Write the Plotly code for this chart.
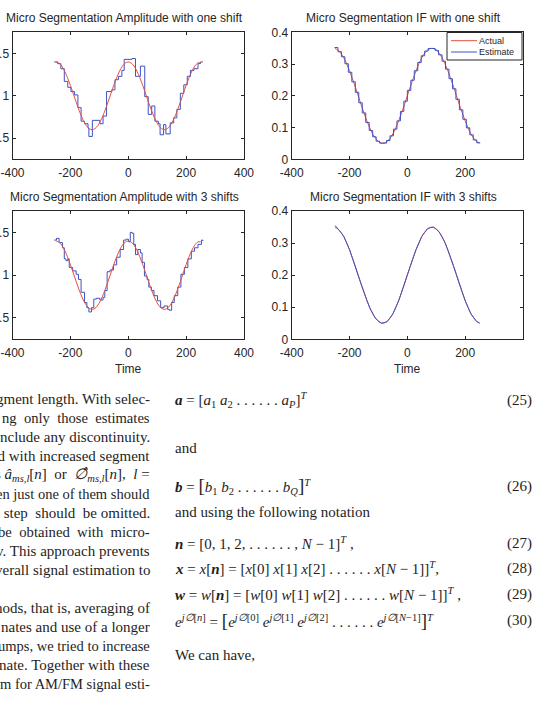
import plotly.graph_objects as go

W, H = 533, 701

# ---------------- data ----------------
amp_t = [-250, -240, -230, -220, -210, -200, -190, -180, -170, -160, -150, -140, -130, -120, -110, -100,
         -90, -80, -70, -60, -50, -40, -30, -20, -10, 0, 10, 20, 30, 40, 50, 60, 70, 80, 90, 100,
         110, 120, 130, 140, 150, 160, 170, 180, 190, 200, 210, 220, 230, 240, 250]
amp_actual = [1.40, 1.387, 1.351, 1.292, 1.214, 1.124, 1.025, 0.925, 0.830, 0.745, 0.676, 0.628, 0.603,
              0.603, 0.628, 0.676, 0.745, 0.830, 0.925, 1.025, 1.124, 1.214, 1.292, 1.351, 1.387, 1.40,
              1.387, 1.351, 1.292, 1.214, 1.124, 1.025, 0.925, 0.830, 0.745, 0.676, 0.628, 0.603, 0.603,
              0.628, 0.676, 0.745, 0.830, 0.925, 1.025, 1.124, 1.214, 1.292, 1.351, 1.387, 1.39]

amp1_est_t = [-256, -244, -233, -221, -209, -198, -186, -174, -163, -151, -139, -136, -124, -98, -87, -75,
              -57, -46, -34, -22, -14, 13, 25, 42, 57, 69, 81, 92, 104, 110, 122, 130, 145, 157, 168,
              180, 192, 204, 215, 227, 241, 250, 258]
amp1_est_v = [1.40, 1.38, 1.32, 1.17, 1.10, 1.05, 1.01, 0.86, 0.70, 0.67, 0.62, 0.52, 0.71, 0.67, 0.76, 1.05,
              1.07, 1.19, 1.23, 1.30, 1.43, 1.44, 1.23, 1.35, 0.99, 0.78, 0.88, 0.70, 0.67, 0.54, 0.66,
              0.55, 0.68, 0.74, 0.84, 1.03, 1.13, 1.23, 1.30, 1.32, 1.38, 1.40, 1.40]

amp3_est_t = [-256, -248, -239, -227, -221, -215, -209, -204, -192, -180, -172, -163, -151, -143, -136, -127,
              -119, -110, -98, -87, -81, -73, -63, -51, -40, -28, -16, -7, 1, 7, 13, 19, 25, 33, 42, 48,
              56, 65, 71, 80, 89, 101, 112, 124, 136, 142, 150, 159, 171, 182, 194, 206, 218, 229, 241,
              253, 258]
amp3_est_v = [1.41, 1.43, 1.38, 1.32, 1.19, 1.17, 1.19, 1.09, 1.05, 1.01, 0.95, 0.80, 0.68, 0.62, 0.57, 0.62,
              0.72, 0.73, 0.71, 0.74, 0.82, 1.04, 1.06, 1.12, 1.21, 1.30, 1.41, 1.42, 1.39, 1.50, 1.49,
              1.36, 1.24, 1.30, 1.26, 1.15, 0.99, 0.95, 0.86, 0.82, 0.76, 0.70, 0.62, 0.64, 0.60, 0.59,
              0.68, 0.76, 0.86, 1.01, 1.09, 1.19, 1.28, 1.32, 1.36, 1.41, 1.40]

if_t = amp_t
if_actual = [0.349, 0.344, 0.334, 0.320, 0.301, 0.279, 0.254, 0.228, 0.200, 0.172, 0.146, 0.121, 0.099,
             0.080, 0.066, 0.056, 0.051, 0.051, 0.056, 0.066, 0.080, 0.099, 0.121, 0.146, 0.172, 0.200,
             0.228, 0.254, 0.279, 0.301, 0.320, 0.334, 0.344, 0.349, 0.349, 0.344, 0.334, 0.320, 0.301,
             0.279, 0.254, 0.228, 0.200, 0.172, 0.146, 0.121, 0.099, 0.080, 0.066, 0.056, 0.051]

if1_est_t = [-252, -240, -228, -216, -204, -192, -180, -168, -156, -144, -132, -120, -108, -96, -84, -72,
             -60, -48, -36, -24, -12, 0, 12, 24, 36, 48, 60, 72, 84, 96, 108, 120, 132, 144, 156, 168,
             180, 192, 204, 216, 228, 240, 252]
if1_est_v = [0.352, 0.339, 0.323, 0.301, 0.274, 0.244, 0.211, 0.178, 0.146, 0.116, 0.091, 0.071, 0.057,
             0.051, 0.051, 0.059, 0.074, 0.095, 0.121, 0.151, 0.183, 0.217, 0.249, 0.279, 0.305, 0.326,
             0.341, 0.349, 0.349, 0.343, 0.329, 0.309, 0.284, 0.254, 0.222, 0.189, 0.156, 0.126, 0.099,
             0.077, 0.061, 0.052, 0.052]

if3_est_v = [0.355, 0.345, 0.333, 0.321, 0.300, 0.280, 0.253, 0.229, 0.199, 0.173, 0.145, 0.122, 0.098,
             0.081, 0.065, 0.057, 0.050, 0.052, 0.055, 0.067, 0.079, 0.100, 0.120, 0.147, 0.171, 0.201,
             0.227, 0.255, 0.280, 0.300, 0.321, 0.333, 0.345, 0.348, 0.350, 0.343, 0.335, 0.319, 0.302,
             0.278, 0.255, 0.227, 0.201, 0.171, 0.147, 0.120, 0.100, 0.079, 0.067, 0.055, 0.050]

x_ticks = [-400, -200, 0, 200, 400]
x_tick_text = ["-400", "-200", "0", "200", "400"]
amp_ticks = [0.5, 1, 1.5]
amp_tick_text = ["0.5", "1", "1.5"]
if_ticks = [0, 0.1, 0.2, 0.3, 0.4]
if_tick_text = ["0", "0.1", "0.2", "0.3", "0.4"]

titles = ["Micro Segmentation Amplitude with one shift", "Micro Segmentation IF with one shift",
          "Micro Segmentation Amplitude with 3 shifts", "Micro Segmentation IF with 3 shifts"]
x_label = "Time"
legend_names = ["Actual", "Estimate"]

# (text, font size) of the clipped left column; double spaces imitate justification
left_lines = [
    ("gment length. With selec-", 15),
    ("ng  only  those  estimates", 14.6),
    ("nclude any discontinuity.", 15),
    ("nd with increased segment", 15),
    ("s <i>â</i><sub><i>ms,l</i></sub>[<i>n</i>]  or  <i>∅̂</i><sub><i>ms,l</i></sub>[<i>n</i>],  <i>l</i> =", 15),
    ("en just one of them should", 14.5),
    ("t  step  should  be omitted.", 15),
    ("be  obtained  with  micro-", 14.7),
    ("v. This approach prevents", 15),
    ("verall signal estimation to", 15),
    ("", 15),
    ("hods, that is, averaging of", 15),
    ("nates and use of a longer", 15),
    ("umps, we tried to increase", 14.5),
    ("nate. Together with these", 15),
    ("m for AM/FM signal esti-", 14.5),
]

BIG_L = '<span style="font-size:19px">[</span>'
BIG_R = '<span style="font-size:19px">]</span>'
right_items = [
    ("<b><i>a</i></b> = [<i>a</i><sub>1</sub> <i>a</i><sub>2</sub> . . . . . . <i>a</i><sub><i>P</i></sub>]<sup><i>T</i></sup>", "(25)"),
    ("and", ""),
    ("<b><i>b</i></b> = " + BIG_L + "<i>b</i><sub>1</sub> <i>b</i><sub>2</sub> . . . . . . <i>b</i><sub><i>Q</i></sub>" + BIG_R + "<sup><i>T</i></sup>", "(26)"),
    ("and using the following notation", ""),
    ("<b><i>n</i></b> = [0, 1, 2, . . . . . . , <i>N</i> − 1]<sup><i>T</i></sup> ,", "(27)"),
    ("<b><i>x</i></b> = <i>x</i>[<b><i>n</i></b>] = [<i>x</i>[0] <i>x</i>[1] <i>x</i>[2] . . . . . . <i>x</i>[<i>N</i> − 1]]<sup><i>T</i></sup>,", "(28)"),
    ("<b><i>w</i></b> = <i>w</i>[<b><i>n</i></b>] = [<i>w</i>[0] <i>w</i>[1] <i>w</i>[2] . . . . . . <i>w</i>[<i>N</i> − 1]]<sup><i>T</i></sup> ,", "(29)"),
    ("<i>e</i><sup><i>j∅</i>[<i>n</i>]</sup> = " + BIG_L + "<i>e</i><sup><i>j∅</i>[0]</sup> <i>e</i><sup><i>j∅</i>[1]</sup> <i>e</i><sup><i>j∅</i>[2]</sup> . . . . . . <i>e</i><sup><i>j∅</i>[<i>N</i>−1]</sup>" + BIG_R + "<sup><i>T</i></sup>", "(30)"),
    ("We can have,", ""),
]

# ---------------- layout helpers ----------------
def fx(p):
    return p / W

def fy(p):
    return 1 - p / H

RED = "rgb(228,80,62)"
BLUE = "rgb(62,82,196)"
AX = "#262626"
TXT = "#1e1e1e"
SANS = "Liberation Sans, Arial, sans-serif"
SERIF = "Liberation Serif, Times New Roman, serif"

fig = go.Figure()

# top-left: amplitude, one shift
fig.add_trace(go.Scatter(x=amp1_est_t, y=amp1_est_v, mode="lines", line=dict(color=BLUE, width=1, shape="hv"),
                         xaxis="x", yaxis="y", showlegend=False))
fig.add_trace(go.Scatter(x=amp_t, y=amp_actual, mode="lines", line=dict(color=RED, width=1, shape="spline"),
                         xaxis="x", yaxis="y", showlegend=False))
# top-right: IF, one shift
fig.add_trace(go.Scatter(x=if_t, y=if_actual, mode="lines", name=legend_names[0],
                         line=dict(color=RED, width=1, shape="spline"), xaxis="x2", yaxis="y2", showlegend=False))
fig.add_trace(go.Scatter(x=if1_est_t, y=if1_est_v, mode="lines", name=legend_names[1],
                         line=dict(color=BLUE, width=1, shape="hv"), xaxis="x2", yaxis="y2", showlegend=False))
# bottom-left: amplitude, 3 shifts
fig.add_trace(go.Scatter(x=amp3_est_t, y=amp3_est_v, mode="lines", line=dict(color=BLUE, width=1, shape="hv"),
                         xaxis="x3", yaxis="y3", showlegend=False))
fig.add_trace(go.Scatter(x=amp_t, y=amp_actual, mode="lines", line=dict(color=RED, width=1, shape="spline"),
                         xaxis="x3", yaxis="y3", showlegend=False))
# bottom-right: IF, 3 shifts
fig.add_trace(go.Scatter(x=if_t, y=if_actual, mode="lines", line=dict(color=RED, width=1, shape="spline"),
                         xaxis="x4", yaxis="y4", showlegend=False))
fig.add_trace(go.Scatter(x=if_t, y=if3_est_v, mode="lines", line=dict(color=BLUE, width=1),
                         xaxis="x4", yaxis="y4", showlegend=False))

common = dict(showline=True, linecolor=AX, linewidth=1, mirror="ticks", ticks="inside", ticklen=3,
              tickcolor=AX, showgrid=False, zeroline=False, automargin=False,
              tickfont=dict(family=SANS, size=12, color=AX))

left_dom = [fx(12.5), fx(244)]
right_dom = [fx(291.7), fx(523)]
top_dom = [fy(159.3), fy(32.3)]
bot_dom = [fy(339.3), fy(211)]

xa = dict(common, range=[-400, 400], tickvals=x_ticks, ticktext=x_tick_text, ticklabelstandoff=2)
ya_amp = dict(common, range=[0.25, 1.75], tickvals=amp_ticks, ticktext=amp_tick_text)
ya_if = dict(common, range=[0, 0.4], tickvals=if_ticks, ticktext=if_tick_text)

fig.update_layout(
    width=W, height=H, autosize=False,
    margin=dict(l=0, r=0, t=0, b=0),
    paper_bgcolor="white", plot_bgcolor="white",
    xaxis=dict(xa, domain=left_dom, anchor="y"),
    yaxis=dict(ya_amp, domain=top_dom, anchor="x"),
    xaxis2=dict(xa, domain=right_dom, anchor="y2"),
    yaxis2=dict(ya_if, domain=top_dom, anchor="x2"),
    xaxis3=dict(xa, domain=left_dom, anchor="y3"),
    yaxis3=dict(ya_amp, domain=bot_dom, anchor="x3"),
    xaxis4=dict(xa, domain=right_dom, anchor="y4"),
    yaxis4=dict(ya_if, domain=bot_dom, anchor="x4"),
    showlegend=False,
)

annotations = []
shapes = []

# subplot titles
title_pos = [(124, 18), (403, 18), (124, 197), (403, 197)]
for t, (cx, cy) in zip(titles, title_pos):
    annotations.append(dict(text=t, x=fx(cx), y=fy(cy), xref="paper", yref="paper", showarrow=False,
                            xanchor="center", yanchor="middle", font=dict(family=SANS, size=12, color=AX)))

# x-axis labels
for cx in (128, 407):
    annotations.append(dict(text=x_label, x=fx(cx), y=fy(369), xref="paper", yref="paper", showarrow=False,
                            xanchor="center", yanchor="middle", font=dict(family=SANS, size=12, color=AX)))

# legend box (top-right panel)
shapes.append(dict(type="rect", xref="paper", yref="paper", x0=fx(447), x1=fx(522), y0=fy(60), y1=fy(32.5),
                   line=dict(color=AX, width=1), fillcolor="white", layer="above"))
for name, col, yy in zip(legend_names, (RED, BLUE), (40.7, 52)):
    shapes.append(dict(type="line", xref="paper", yref="paper", x0=fx(451), x1=fx(477), y0=fy(yy), y1=fy(yy),
                       line=dict(color=col, width=1), layer="above"))
    annotations.append(dict(text=name, x=fx(478), y=fy(yy), xref="paper", yref="paper", showarrow=False,
                            xanchor="left", yanchor="middle", borderpad=0,
                            font=dict(family=SANS, size=9, color=AX)))

# paper text below the figure
for i, (line, fs) in enumerate(left_lines):
    if not line:
        continue
    annotations.append(dict(text=line, x=fx(152), y=fy(399 + 19 * i), xref="paper", yref="paper",
                            showarrow=False, xanchor="right", yanchor="middle",
                            font=dict(family=SERIF, size=fs, color=TXT)))

right_y = [400, 448, 486, 512, 543, 568, 594, 620, 655]
for (txt, num), yy in zip(right_items, right_y):
    annotations.append(dict(text=txt, x=fx(173), y=fy(yy), xref="paper", yref="paper", showarrow=False,
                            xanchor="left", yanchor="middle", font=dict(family=SERIF, size=15, color=TXT)))
    if num:
        annotations.append(dict(text=num, x=fx(534), y=fy(yy), xref="paper", yref="paper", showarrow=False,
                                xanchor="right", yanchor="middle",
                                font=dict(family=SERIF, size=15, color=TXT)))

fig.update_layout(annotations=annotations, shapes=shapes)
fig.write_html("out.html")
